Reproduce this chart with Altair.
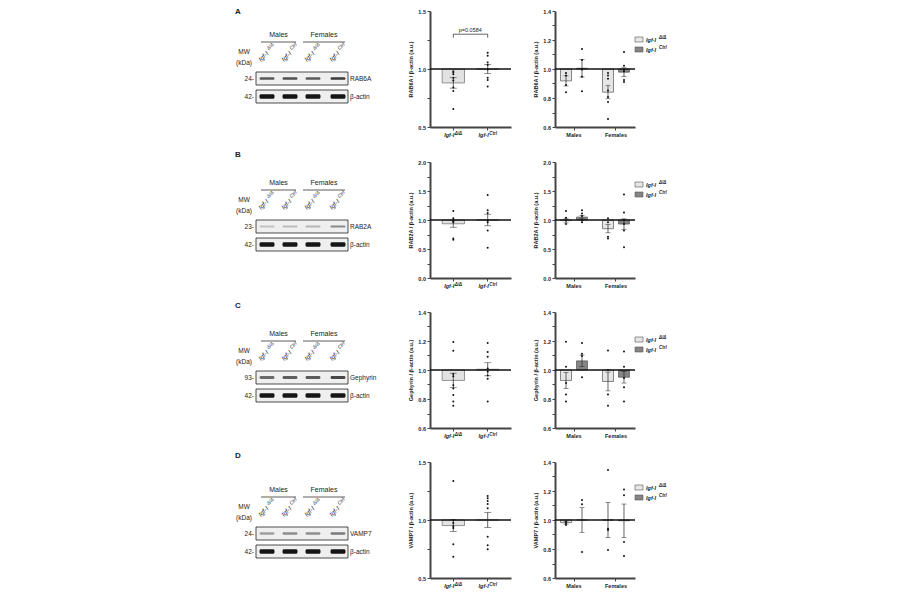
import altair as alt
import pandas as pd

FONT = "Liberation Sans"
GENO = ["KO", "Ctrl"]
SUPS = ["Δ/Δ", "Ctrl"]
SEXES = ["Males", "Females"]
H = 116
W_MID = 81
W_RIGHT = 80
W_BLOT = 379

# ---------------- data ----------------
# Row A : RAB6A
A_mid_mean = [0.88, 1.00]
A_mid_sem = [0.045, 0.04]
A_mid_pts_ko = [0.98, 0.97, 0.955, 0.925, 0.90, 0.84, 0.81, 0.655]
A_mid_pts_ct = [1.14, 1.115, 1.055, 1.035, 0.995, 0.925, 0.905, 0.85]
A_r_mean_ko = [0.918, 0.84]
A_r_mean_ct = [1.005, 0.978]
A_r_sem_ko = [0.035, 0.045]
A_r_sem_ct = [0.06, 0.03]
A_r_m_ko = [0.973, 0.956, 0.889, 0.84]
A_r_m_ct = [1.138, 1.062, 0.996, 0.947, 0.847]
A_r_f_ko = [0.973, 0.956, 0.933, 0.851, 0.807, 0.773, 0.656]
A_r_f_ct = [1.118, 1.022, 0.996, 0.984, 0.924, 0.911]

# Row B : RAB2A
B_mid_mean = [0.935, 1.00]
B_mid_sem = [0.06, 0.10]
B_mid_pts_ko = [1.155, 1.03, 1.0, 0.98, 0.96, 0.68, 0.66]
B_mid_pts_ct = [1.43, 1.17, 1.12, 0.99, 0.96, 0.82, 0.52]
B_r_mean_ko = [0.99, 0.85]
B_r_mean_ct = [1.05, 0.93]
B_r_sem_ko = [0.04, 0.07]
B_r_sem_ct = [0.03, 0.09]
B_r_m_ko = [1.155, 1.04, 0.99, 0.93]
B_r_m_ct = [1.17, 1.11, 1.07, 0.99, 0.96]
B_r_f_ko = [1.03, 0.96, 0.71, 0.68]
B_r_f_ct = [1.44, 1.13, 1.0, 0.93, 0.82, 0.53]

# Row C : Gephyrin
C_mid_mean = [0.928, 1.005]
C_mid_sem = [0.05, 0.045]
C_mid_pts_ko = [1.193, 1.133, 0.973, 0.957, 0.894, 0.872, 0.827, 0.782, 0.753]
C_mid_pts_ct = [1.187, 1.124, 1.092, 1.01, 0.99, 0.962, 0.94, 0.782]
C_r_mean_ko = [0.928, 0.921]
C_r_mean_ct = [1.063, 0.95]
C_r_sem_ko = [0.055, 0.065]
C_r_sem_ct = [0.04, 0.04]
C_r_m_ko = [1.195, 1.022, 0.91, 0.831, 0.782]
C_r_m_ct = [1.186, 1.112, 1.097, 0.95]
C_r_f_ko = [1.135, 1.0, 0.831, 0.753]
C_r_f_ct = [1.128, 1.022, 0.944, 0.881, 0.782]

# Row D : VAMP7
D_mid_mean = [0.952, 1.00]
D_mid_sem = [0.05, 0.065]
D_mid_pts_ko = [1.337, 0.997, 0.975, 0.946, 0.932, 0.79, 0.683]
D_mid_pts_ct = [1.207, 1.187, 1.164, 1.139, 1.102, 0.856, 0.782, 0.748]
D_r_mean_ko = [0.982, 1.0]
D_r_mean_ct = [1.0, 0.995]
D_r_sem_ko = [0.01, 0.12]
D_r_sem_ct = [0.085, 0.115]
D_r_m_ko = [0.99, 0.977, 0.966]
D_r_m_ct = [1.138, 1.108, 0.779]
D_r_f_ko = [1.345, 0.94, 0.931, 0.793]
D_r_f_ct = [1.21, 1.17, 0.848, 0.752]

# axis tick values
TICKS_05 = [0.5, 0.75, 1.0, 1.25, 1.5]
TICKS_06 = [0.6, 0.7, 0.8, 0.9, 1.0, 1.1, 1.2, 1.3, 1.4]
TICKS_00 = [0.0, 0.25, 0.5, 0.75, 1.0, 1.25, 1.5, 1.75, 2.0]

# blot band shades (per lane)
A_bands = ["#5a5a5a", "#505050", "#5c5c5c", "#3a3a3a"]
B_bands = ["#c4c4c4", "#bdbdbd", "#b5b5b5", "#8a8a8a"]
C_bands = ["#6a6a6a", "#5e5e5e", "#5a5a5a", "#474747"]
D_bands = ["#a0a0a0", "#8c8c8c", "#909090", "#7a7a7a"]
ACTIN = ["#151515", "#151515", "#151515", "#151515"]
LANES = [267, 290, 313, 338]


def yaxis(title, ticks, major):
    return alt.Axis(
        title=title, values=ticks,
        labelExpr=f"abs(datum.value/{major} - round(datum.value/{major})) < 0.01 ? format(datum.value, '.1f') : ''",
        grid=False, tickSize=3, tickWidth=1, tickColor="#444", domainColor="#444",
        domainWidth=2, labelFontSize=5.5, labelFontWeight="bold", labelColor="#222",
        titleFontSize=5.5, titleFontWeight="bold", titleColor="#222",
        labelPadding=1.5, titlePadding=4)


XAX_MID = alt.Axis(title=None, labels=False, ticks=True, tickSize=3, tickColor="#444",
                   domainWidth=2, domainColor="#444")
XAX_R = alt.Axis(title=None, labelAngle=0, labelFontSize=5.5, labelFontWeight="bold",
                 labelColor="#222", tickSize=3, tickColor="#444", domainWidth=2,
                 domainColor="#444", labelPadding=2)


def mid_chart(title, dom, ticks, major, mean, sem, pts_ko, pts_ct, pval=None):
    xs = alt.Scale(domain=GENO, paddingInner=0.35, paddingOuter=0.353)
    ys = alt.Scale(domain=dom, nice=False, zero=False)
    yax = yaxis(title, ticks, major)
    X = alt.X("g:N", scale=xs, axis=XAX_MID, sort=GENO)

    def Y(f):
        return alt.Y(f"{f}:Q", scale=ys, axis=yax)

    lo = [m - s for m, s in zip(mean, sem)]
    hi = [m + s for m, s in zip(mean, sem)]
    bars = pd.DataFrame({"g": GENO, "m": mean, "one": [1.0, 1.0], "lo": lo, "hi": hi})
    caps = pd.DataFrame({"g": GENO + GENO, "v": lo + hi})
    pts = pd.DataFrame({"g": [GENO[0]] * len(pts_ko) + [GENO[1]] * len(pts_ct),
                        "v": pts_ko + pts_ct})
    labs = pd.DataFrame({"g": GENO, "main": ["Igf-I", "Igf-I"], "sup": SUPS})

    layers = [
        alt.Chart(bars).mark_bar(fill="#e2e2e2", stroke="#6a6a6a", strokeWidth=0.7)
        .encode(x=X, y=Y("m"), y2="one:Q"),
        alt.Chart(pd.DataFrame({"one": [1.0]})).mark_rule(color="#111", strokeWidth=1.6)
        .encode(y=Y("one")),
        alt.Chart(bars).mark_rule(color="#222", strokeWidth=0.7).encode(x=X, y=Y("lo"), y2="hi:Q"),
        alt.Chart(caps).mark_tick(color="#222", size=7, thickness=0.7).encode(x=X, y=Y("v")),
        alt.Chart(pts).mark_circle(color="#111", size=4, opacity=1).encode(x=X, y=Y("v")),
        alt.Chart(labs).mark_text(font=FONT, fontSize=5.5, fontStyle="italic", fontWeight="bold",
                                  align="right", baseline="top", dx=1, color="#222")
        .encode(x=X, y=alt.value(H + 6), text="main:N"),
        alt.Chart(labs).mark_text(font=FONT, fontSize=4.5, fontStyle="italic", fontWeight="bold",
                                  align="left", baseline="top", dx=1.5, color="#222")
        .encode(x=X, y=alt.value(H + 4), text="sup:N"),
    ]
    if pval is not None:
        br = pd.DataFrame({"g": [GENO[0], GENO[0], GENO[1], GENO[1]],
                           "v": [1.27, 1.30, 1.30, 1.27], "o": [0, 1, 2, 3]})
        layers.append(alt.Chart(br).mark_line(color="#222", strokeWidth=0.7)
                      .encode(x=X, y=Y("v"), order="o:Q"))
        layers.append(alt.Chart(pd.DataFrame({"g": [GENO[0]], "v": [1.335], "t": [pval]}))
                      .mark_text(font=FONT, fontSize=5.5, dx=17, color="#222")
                      .encode(x=X, y=Y("v"), text="t:N"))
    return alt.layer(*layers).properties(width=W_MID, height=H)


def right_chart(title, dom, ticks, major, mean_ko, mean_ct, sem_ko, sem_ct,
                m_ko, m_ct, f_ko, f_ct, leg_y):
    xs = alt.Scale(domain=SEXES, paddingInner=0.214, paddingOuter=0.06)
    xo = alt.Scale(domain=GENO, paddingInner=0.3125, paddingOuter=0.1875)
    ys = alt.Scale(domain=dom, nice=False, zero=False)
    yax = yaxis(title, ticks, major)
    X = alt.X("s:N", scale=xs, axis=XAX_R, sort=SEXES)
    XO = alt.XOffset("g:N", scale=xo, sort=GENO)
    FILL = alt.Color("g:N", scale=alt.Scale(domain=GENO, range=["#e6e6e6", "#858585"]), legend=None)

    def Y(f):
        return alt.Y(f"{f}:Q", scale=ys, axis=yax)

    s_col = ["Males", "Females", "Males", "Females"]
    g_col = [GENO[0], GENO[0], GENO[1], GENO[1]]
    means = mean_ko + mean_ct
    sems = sem_ko + sem_ct
    lo = [m - s for m, s in zip(means, sems)]
    hi = [m + s for m, s in zip(means, sems)]
    bars = pd.DataFrame({"s": s_col, "g": g_col, "m": means, "one": [1.0] * 4, "lo": lo, "hi": hi})
    caps = pd.DataFrame({"s": s_col + s_col, "g": g_col + g_col, "v": lo + hi})
    pts = pd.DataFrame({
        "s": ["Males"] * (len(m_ko) + len(m_ct)) + ["Females"] * (len(f_ko) + len(f_ct)),
        "g": [GENO[0]] * len(m_ko) + [GENO[1]] * len(m_ct) + [GENO[0]] * len(f_ko) + [GENO[1]] * len(f_ct),
        "v": m_ko + m_ct + f_ko + f_ct})
    one = pd.DataFrame({"a": [0]})

    layers = [
        alt.Chart(bars).mark_bar(stroke="#555", strokeWidth=0.7)
        .encode(x=X, xOffset=XO, y=Y("m"), y2="one:Q", fill=FILL),
        alt.Chart(pd.DataFrame({"one": [1.0]})).mark_rule(color="#111", strokeWidth=1.6)
        .encode(y=Y("one")),
        alt.Chart(bars).mark_rule(color="#222", strokeWidth=0.7)
        .encode(x=X, xOffset=XO, y=Y("lo"), y2="hi:Q"),
        alt.Chart(caps).mark_tick(color="#222", size=5, thickness=0.7)
        .encode(x=X, xOffset=XO, y=Y("v")),
        alt.Chart(pts).mark_circle(color="#111", size=4, opacity=1)
        .encode(x=X, xOffset=XO, y=Y("v")),
    ]
    cols = ["#e6e6e6", "#858585"]
    for i in range(2):
        yy = leg_y + 10 * i
        layers.append(alt.Chart(one).mark_rect(fill=cols[i], stroke="#555", strokeWidth=0.6)
                      .encode(x=alt.value(80), x2=alt.value(88), y=alt.value(yy), y2=alt.value(yy + 5)))
        layers.append(alt.Chart(one).mark_text(font=FONT, fontSize=5.5, fontStyle="italic",
                                               fontWeight="bold", align="left", baseline="middle",
                                               color="#222", text="Igf-I")
                      .encode(x=alt.value(91), y=alt.value(yy + 3)))
        layers.append(alt.Chart(one).mark_text(font=FONT, fontSize=4.5, fontStyle="italic",
                                               fontWeight="bold", align="left", baseline="middle",
                                               color="#222", text=SUPS[i])
                      .encode(x=alt.value(104), y=alt.value(yy + 0.5)))
    return alt.layer(*layers).properties(width=W_RIGHT, height=H)


def blot_chart(letter, letter_y, target, mw, band_cols, band_h, off):
    xs = alt.Scale(domain=[8, 8 + W_BLOT], nice=False, zero=False)
    ys = alt.Scale(domain=[0, H], nice=False, zero=False, reverse=True)

    def XX(f):
        return alt.X(f"{f}:Q", scale=xs, axis=None)

    def YY(f):
        return alt.Y(f"{f}:Q", scale=ys, axis=None)

    def txt(xv, yv, tv, **kw):
        df = pd.DataFrame({"x": xv, "y": yv, "t": tv})
        return alt.Chart(df).mark_text(font=FONT, color="#222", **kw).encode(
            x=XX("x"), y=YY("y"), text="t:N")

    b1 = (66 + off, 79 + off)
    b2 = (84 + off, 97 + off)
    c1 = (b1[0] + b1[1]) / 2
    c2 = (b2[0] + b2[1]) / 2
    boxes = pd.DataFrame({"x": [256, 256], "x2": [348, 348], "y": [b1[0], b2[0]], "y2": [b1[1], b2[1]]})
    bands = pd.DataFrame({
        "x": [c - 7.5 for c in LANES] * 2,
        "x2": [c + 7.5 for c in LANES] * 2,
        "y": [c1 - band_h / 2] * 4 + [c2 - 2.2] * 4,
        "y2": [c1 + band_h / 2] * 4 + [c2 + 2.2] * 4,
        "col": band_cols + ACTIN})
    lines = pd.DataFrame({"x": [261, 303], "x2": [296, 345], "y": [36 + off, 36 + off]})
    lane_x = [c - 6 for c in LANES]
    lane_y = [56 + off] * 4

    layers = [
        txt([238], [letter_y], [letter], fontSize=8, fontWeight="bold"),
        txt([278.5, 324], [29 + off] * 2, ["Males", "Females"], fontSize=7),
        alt.Chart(lines).mark_rule(color="#333", strokeWidth=0.8)
        .encode(x=XX("x"), x2="x2:Q", y=YY("y")),
        txt([244, 244], [46 + off, 56.5 + off], ["MW", "(kDa)"], fontSize=6.5),
        txt(lane_x, lane_y, ["Igf-I"] * 4, fontSize=6.5, fontStyle="italic", angle=315,
            align="left", baseline="alphabetic"),
        txt(lane_x, lane_y, [SUPS[0], SUPS[1], SUPS[0], SUPS[1]], fontSize=5, fontStyle="italic",
            angle=315, align="left", baseline="alphabetic", dx=13.5, dy=-3),
        alt.Chart(boxes).mark_rect(fill="#efefef", stroke="#222", strokeWidth=0.8)
        .encode(x=XX("x"), x2="x2:Q", y=YY("y"), y2="y2:Q"),
        alt.Chart(bands).mark_rect(cornerRadius=1.5)
        .encode(x=XX("x"), x2="x2:Q", y=YY("y"), y2="y2:Q", fill=alt.Color("col:N", scale=None)),
        txt([254, 254], [c1, c2], [mw + "-", "42-"], fontSize=6.5, align="right", baseline="middle"),
        txt([350, 350], [c1, c2], [target, "β-actin"], fontSize=6.5, align="left", baseline="middle"),
    ]
    return alt.layer(*layers).properties(width=W_BLOT, height=H)


SP = 21
rowA = alt.hconcat(
    blot_chart("A", 1, "RAB6A", "24", A_bands, 2.6, -5),
    mid_chart("RAB6A / β-actin (a.u.)", [0.5, 1.5], TICKS_05, 0.5,
              A_mid_mean, A_mid_sem, A_mid_pts_ko, A_mid_pts_ct, pval="p=0.0584"),
    right_chart("RAB6A / β-actin (a.u.)", [0.6, 1.4], TICKS_06, 0.2,
                A_r_mean_ko, A_r_mean_ct, A_r_sem_ko, A_r_sem_ct,
                A_r_m_ko, A_r_m_ct, A_r_f_ko, A_r_f_ct, 26),
    spacing=SP)
rowB = alt.hconcat(
    blot_chart("B", -7, "RAB2A", "23", B_bands, 2.0, -8),
    mid_chart("RAB2A / β-actin (a.u.)", [0.0, 2.0], TICKS_00, 0.5,
              B_mid_mean, B_mid_sem, B_mid_pts_ko, B_mid_pts_ct),
    right_chart("RAB2A / β-actin (a.u.)", [0.0, 2.0], TICKS_00, 0.5,
                B_r_mean_ko, B_r_mean_ct, B_r_sem_ko, B_r_sem_ct,
                B_r_m_ko, B_r_m_ct, B_r_f_ko, B_r_f_ct, 20),
    spacing=SP)
rowC = alt.hconcat(
    blot_chart("C", -6, "Gephyrin", "93", C_bands, 3.0, -7),
    mid_chart("Gephyrin / β-actin (a.u.)", [0.6, 1.4], TICKS_06, 0.2,
              C_mid_mean, C_mid_sem, C_mid_pts_ko, C_mid_pts_ct),
    right_chart("Gephyrin / β-actin (a.u.)", [0.6, 1.4], TICKS_06, 0.2,
                C_r_mean_ko, C_r_mean_ct, C_r_sem_ko, C_r_sem_ct,
                C_r_m_ko, C_r_m_ct, C_r_f_ko, C_r_f_ct, 25),
    spacing=SP)
rowD = alt.hconcat(
    blot_chart("D", -6, "VAMP7", "24", D_bands, 2.4, -1),
    mid_chart("VAMP7 / β-actin (a.u.)", [0.5, 1.5], TICKS_05, 0.5,
              D_mid_mean, D_mid_sem, D_mid_pts_ko, D_mid_pts_ct),
    right_chart("VAMP7 / β-actin (a.u.)", [0.6, 1.4], TICKS_06, 0.2,
                D_r_mean_ko, D_r_mean_ct, D_r_sem_ko, D_r_sem_ct,
                D_r_m_ko, D_r_m_ct, D_r_f_ko, D_r_f_ct, 23),
    spacing=SP)

chart = (alt.vconcat(rowA, rowB, rowC, rowD, spacing=12)
         .properties(padding=0)
         .configure(font=FONT)
         .configure_view(strokeWidth=0, stroke="transparent"))

chart.save("out.html", embed_options={"renderer": "svg", "actions": False})
